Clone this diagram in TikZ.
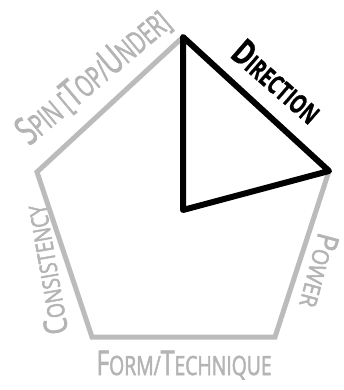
\documentclass[tikz,border=0pt]{standalone}
\usepackage{graphicx}
\usepackage{fontspec}
\setmainfont{Open Sans}
\newfontfamily\grayfont{Open Sans}[FakeBold=2.4]
\newfontfamily\blackfont{Open Sans Bold}[FakeBold=1]
\definecolor{edgegray}{RGB}{187,187,187}
\definecolor{txtgray}{RGB}{180,180,180}
\newcommand\fz[2]{{\fontsize{#1}{#1}\selectfont #2}}
\tikzset{
  pent/.style={draw=edgegray, line width=5pt, line join=miter},
  tri/.style={draw=black, line width=6pt, line join=round},
  lbl/.style={text=txtgray, inner sep=0pt, anchor=base, font=\grayfont},
  dlbl/.style={text=black, inner sep=0pt, anchor=base, font=\blackfont},
}
\begin{document}
\begin{tikzpicture}[x=1pt,y=-1pt]
\useasboundingbox (0,0) rectangle (344,390);
\coordinate (T) at (183,37);
\coordinate (R) at (329,171);
\coordinate (BR) at (275,337);
\coordinate (BL) at (92,337);
\coordinate (L) at (37,172);
\coordinate (C) at (183,210);
\draw[pent] (T) -- (R) -- (BR) -- (BL) -- (L) -- cycle;
\draw[tri] (T) -- (R) -- (C) -- cycle;
\node[lbl, rotate=40] (spin) at (101,86) {\scalebox{0.66}[1]{\fz{39}{S}\fz{30.5}{PIN [}\fz{39}{T}\fz{30.5}{OP/}\fz{39}{U}\fz{30.5}{NDER]}}};
\node[dlbl, rotate=-41] (dir) at (269,91) {\scalebox{0.7}[1]{\fz{36}{D}\fz{26.5}{IRECTION}}};
\node[lbl, rotate=-105] (pow) at (309,268) {\scalebox{0.9}[1]{\fz{30}{P}\fz{23}{OWER}}};
\node[lbl, rotate=100] (cons) at (57,268) {\scalebox{0.8}[1]{\fz{32}{C}\fz{24}{ONSISTENCY}}};
\node[lbl] (form) at (184,375) {\scalebox{0.73}[1]{\fz{34}{F}\fz{26.5}{ORM/}\fz{34}{T}\fz{26.5}{ECHNIQUE}}};
\end{tikzpicture}
\end{document}
